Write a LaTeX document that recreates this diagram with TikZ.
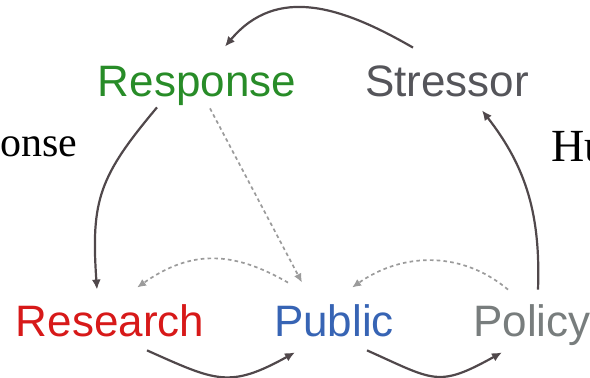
\documentclass[tikz,border=0pt]{standalone}
\usepackage{fontspec}
\setmainfont{Liberation Serif}
\setsansfont{Liberation Sans}
\usetikzlibrary{arrows.meta}
\definecolor{respgreen}{RGB}{40,140,40}
\definecolor{stressgray}{RGB}{85,85,90}
\definecolor{researchred}{RGB}{215,25,25}
\definecolor{publicblue}{RGB}{55,100,180}
\definecolor{policygray}{RGB}{120,125,125}
\definecolor{linkgray}{RGB}{80,72,75}
\definecolor{hintgray}{RGB}{155,155,155}
\begin{document}
\begin{tikzpicture}
                        [x=0.5pt, y=0.5pt,
                        word/.style = {inner sep=0pt, anchor=base,
                                    text height=16pt, text depth=4.5pt,
                                    font=\sffamily\fontsize{22}{26}\selectfont},
                        cut/.style = {inner sep=0pt, anchor=base west},
                        link/.style = {draw=linkgray, line width=1.1pt,
                                    -{Latex[length=5pt,width=4.5pt]}},
                        hint/.style = {draw=hintgray, line width=0.85pt,
                                    dash pattern=on 1.8pt off 1.6pt,
                                    -{Latex[length=4.5pt,width=4pt]}}]
                        \useasboundingbox (0,0) rectangle (590,378);
                        \node[word, text=respgreen] (Response) at (197,281) {Response};
                        \node[word, text=stressgray] (Stressor) at (447,281) {Stressor};
                        \node[word, text=researchred] (Research) at (110,41) {Research};
                        \node[word, text=publicblue] (Public) at (334,41) {Public};
                        \node[word, text=policygray] (Policy) at (532,41) {Policy};
                        \node[cut, font=\fontsize{21}{24}\selectfont] (LeftCut) at (0,221) {onse};
                        \node[cut, font=\fontsize{23}{26}\selectfont] (RightCut) at (551,216) {Hu};
                        % solid loop
                        \draw[link] ([shift={(-34,17)}]Stressor.north) to[out=150,in=50,looseness=1.1] ([shift={(28,18)}]Response.north);
                        \draw[link] ([shift={(-40,-1)}]Response.south) to[out=230,in=94,looseness=1.2] ([shift={(-13,15)}]Research.north);
                        \draw[link] ([shift={(37,-4)}]Research.south) to[out=-24,in=-151,looseness=1.3] ([shift={(-39,-6)}]Public.south);
                        \draw[link] ([shift={(33,-4)}]Public.south) to[out=-24,in=-151,looseness=1.4] ([shift={(-30,-6)}]Policy.south);
                        \draw[link] ([shift={(6,15)}]Policy.north) to[out=88,in=-52] ([shift={(35,-4)}]Stressor.south);
                        % dashed links
                        \draw[hint] ([shift={(13,-2)}]Response.south) -- ([shift={(-32,22)}]Public.north);
                        \draw[hint] ([shift={(-46,22)}]Public.north) to[out=150,in=35,looseness=1.1] ([shift={(27,17)}]Research.north);
                        \draw[hint] ([shift={(-24,15)}]Policy.north) to[out=140,in=35] ([shift={(18,17)}]Public.north);
                    \end{tikzpicture}
\end{document}
